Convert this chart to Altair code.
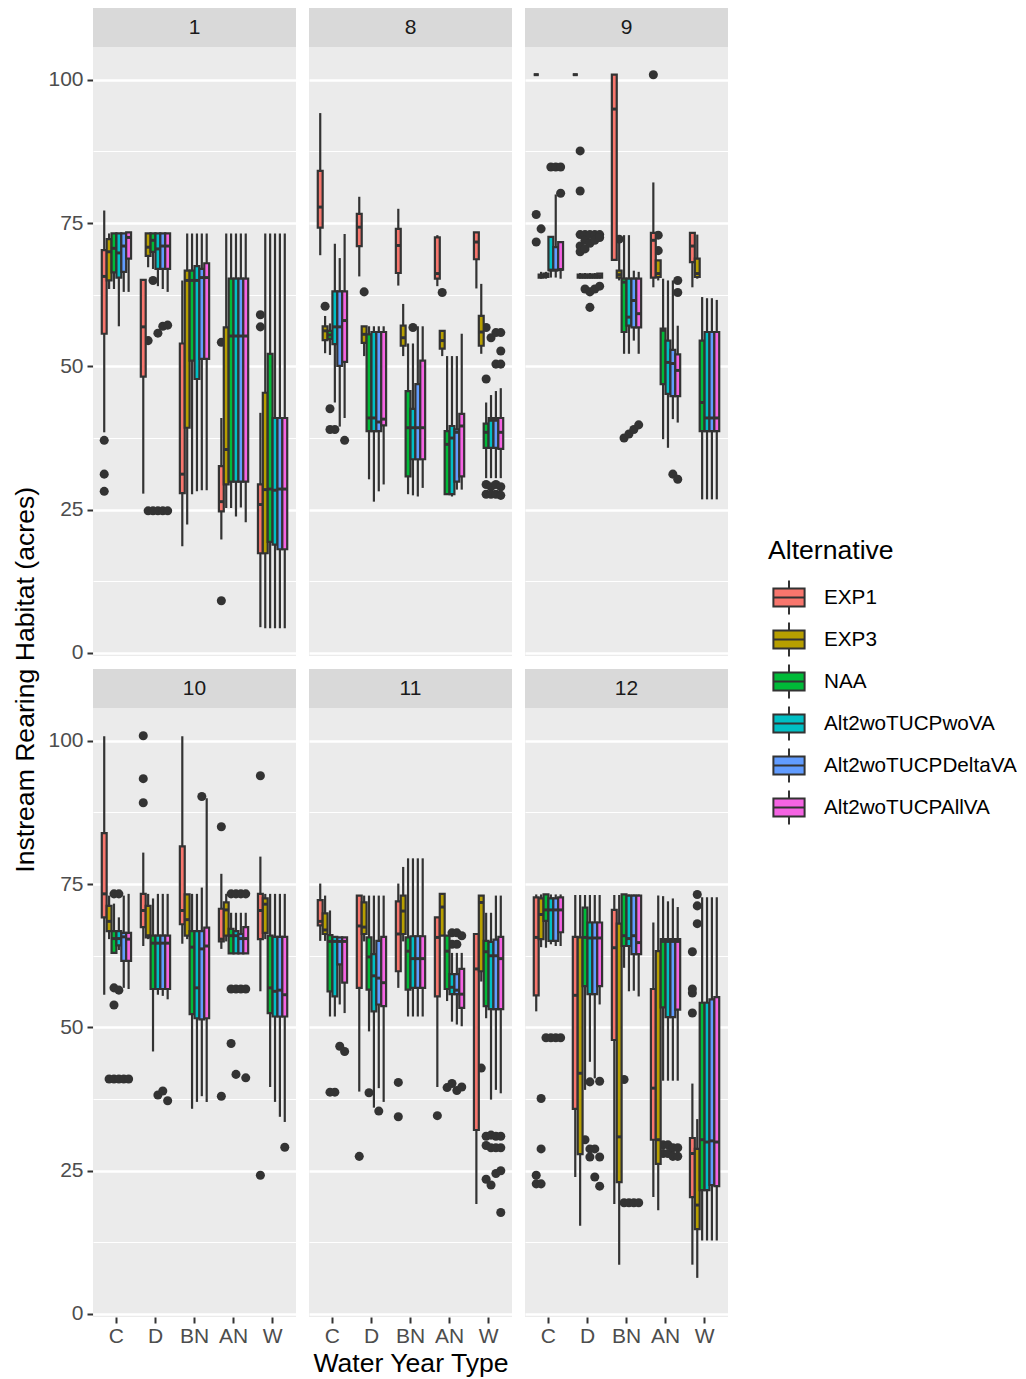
import altair as alt
import pandas as pd

ALTS = ["EXP1", "EXP3", "NAA", "Alt2woTUCPwoVA", "Alt2woTUCPDeltaVA", "Alt2woTUCPAllVA"]
WYT = ["C", "D", "BN", "AN", "W"]
MONTHS = [1, 8, 9, 10, 11, 12]
COLORS = ["#F8766D", "#B79F00", "#00BA38", "#00BFC4", "#619CFF", "#F564E3"]

# per month: water year type -> one [lower whisker, q1, median, q3, upper whisker] per alternative
m1_stats = {
    "C": [[38.5, 55.7, 65.7, 70.3, 77.2], [63.5, 65, 70, 72.2, 73.2], [63.5, 66.4, 70.6, 73.2, 73.2],
          [57, 65.5, 69.8, 73.2, 73.2], [63, 66.5, 71, 73.2, 73.2], [63, 68.8, 72.5, 73.4, 73.4]],
    "D": [[27.8, 48.2, 56.9, 65.1, 65.1], [67.3, 69.3, 70.8, 73.2, 73.2], [67, 70, 72, 73.2, 73.2],
          [64, 67, 70.5, 73.2, 73.2], [63.5, 67, 71, 73.2, 73.2], [63, 67, 71, 73.2, 73.2]],
    "BN": [[18.6, 27.9, 31.2, 54, 65], [22.4, 39.3, 65, 66.7, 73.2], [27.7, 51, 65, 66.7, 73.2],
           [28.2, 47.8, 65, 67.5, 73.2], [28.4, 51.3, 65.5, 67, 73.2], [28.4, 51.3, 65.5, 68, 73.2]],
    "AN": [[19.8, 24.7, 26.4, 32.6, 41], [25.3, 29.4, 35.5, 56.8, 73.2], [25.3, 29.9, 55.3, 65.3, 73.2],
           [23.8, 29.9, 55.3, 65.3, 73.2], [25.4, 29.9, 55.3, 65.3, 73.2], [22.8, 29.9, 55.3, 65.3, 73.2]],
    "W": [[4.5, 17.4, 25.9, 29.4, 41.9], [4.3, 17.4, 28.5, 45.4, 73.2], [4.3, 19.4, 28.6, 52.2, 73.2],
          [4.3, 18.9, 28.4, 41, 73.2], [4.3, 18.1, 28.6, 41, 73.2], [4.3, 18.1, 28.6, 41, 73.2]],
}
m1_out = {
    "C": {"EXP1": [37.1, 31.2, 28.2]},
    "D": {"EXP3": [54.5, 24.8], "NAA": [65, 24.8], "Alt2woTUCPwoVA": [55.8, 24.8],
          "Alt2woTUCPDeltaVA": [57, 24.8], "Alt2woTUCPAllVA": [57.2, 24.8]},
    "AN": {"EXP1": [54.2, 9.1]},
    "W": {"EXP1": [59, 56.9]},
}

m8_stats = {
    "C": [[69.4, 74.2, 77.8, 84.1, 94.2], [52.3, 54.6, 56.2, 57, 58.8], [52, 54.8, 55.5, 56.2, 57.5],
          [43.7, 53.9, 56.9, 63.1, 71.4], [39.5, 50.1, 56.9, 63.1, 68.9], [41, 50.8, 58, 63.1, 73.1]],
    "D": [[65.7, 71, 74.3, 76.6, 79.6], [51.8, 54.1, 55.6, 57, 57], [30.3, 38.7, 41, 55.6, 57],
          [26.4, 38.7, 41, 56, 57], [28.2, 38.7, 40.3, 56, 57], [29.4, 39.7, 40.8, 56, 57]],
    "BN": [[64.1, 66.3, 71.1, 74, 77.5], [51.8, 53.6, 55, 57.1, 60.9], [27.7, 30.8, 39.3, 45.7, 54],
           [27.5, 33.8, 39.3, 42.6, 54], [27.3, 33.8, 39.3, 46.9, 57], [28.8, 33.8, 39.3, 51, 57]],
    "AN": [[64, 65.3, 66.2, 72.5, 72.9], [51.8, 53.1, 54.5, 56.2, 56.2], [27.7, 27.7, 36.4, 38.7, 51.8],
           [27.3, 27.7, 37.5, 39.6, 51.8], [28.5, 29.9, 38.5, 39, 51.8], [28.5, 30.8, 39.6, 41.7, 55.7]],
    "W": [[63.6, 68.7, 71.7, 73.4, 73.4], [52.2, 53.6, 56, 58.8, 64.4], [30.5, 35.8, 38.5, 40, 43.7],
          [30.5, 35.8, 40.6, 41, 45], [30.5, 35.8, 40.6, 41, 45.7], [30.5, 35.6, 38.5, 41, 46.2]],
}
m8_out = {
    "C": {"EXP3": [60.5], "NAA": [42.6, 39], "Alt2woTUCPwoVA": [39], "Alt2woTUCPAllVA": [37.1]},
    "D": {"EXP3": [63]},
    "BN": {"Alt2woTUCPwoVA": [56.8]},
    "AN": {"EXP3": [62.9]},
    "W": {"NAA": [56.8, 47.8, 29.4, 27.7], "Alt2woTUCPwoVA": [55, 29, 27.7],
          "Alt2woTUCPDeltaVA": [55.9, 50.4, 29.4, 27.7], "Alt2woTUCPAllVA": [55.9, 52.7, 50.4, 29, 27.5]},
}

m9_stats = {
    "C": [[100.9, 100.9, 100.9, 100.9, 100.9], [65.3, 65.5, 65.8, 66, 66.5], [65.3, 65.6, 66, 66.2, 66.5],
          [65.5, 66.8, 66.8, 72.6, 72.6], [65.5, 66.8, 66.8, 70.8, 80], [65.3, 66.9, 66.9, 71.7, 71.7]],
    "D": [[100.9, 100.9, 100.9, 100.9, 100.9], [65.3, 65.5, 65.8, 66, 66.3], [65.3, 65.5, 65.8, 66, 66.3],
          [65.3, 65.5, 65.8, 66, 66.3], [65.3, 65.5, 65.8, 66, 66.3], [65.3, 65.5, 65.8, 66.2, 66.3]],
    "BN": [[68.6, 68.6, 94.9, 100.9, 100.9], [65, 65.5, 66, 66.7, 72.9], [52.2, 56, 64.7, 65.3, 72.9],
           [52.2, 57.1, 58.6, 65.3, 72.9], [54.5, 56.8, 61.5, 65.3, 66.7], [52.2, 56.8, 59.2, 65.3, 66.5]],
    "AN": [[63.8, 65.5, 72, 73.3, 82.1], [65, 65.6, 66.2, 68.5, 68.5], [37.3, 46.9, 56.3, 56.6, 65.3],
           [35.8, 45.2, 50.7, 54.5, 65], [40.8, 44.8, 50.5, 52.9, 65], [40.2, 44.8, 49.3, 52.1, 57.1]],
    "W": [[63.8, 68.2, 71, 73.3, 73.3], [65.3, 65.6, 66.2, 68.8, 73], [26.8, 38.7, 43.7, 54.5, 62.1],
          [26.8, 38.7, 41, 56, 61.9], [26.8, 38.7, 41, 56, 61.9], [26.8, 38.7, 41, 56, 61.6]],
}
m9_out = {
    "C": {"EXP1": [76.5, 71.7], "EXP3": [74], "Alt2woTUCPwoVA": [84.8], "Alt2woTUCPDeltaVA": [84.8],
          "Alt2woTUCPAllVA": [84.8, 80.2]},
    "D": {"EXP3": [87.6, 80.6, 73, 71, 70], "NAA": [73, 72, 70.5, 63.5], "Alt2woTUCPwoVA": [73, 71.5, 63, 60.3],
          "Alt2woTUCPDeltaVA": [73, 72, 63.5], "Alt2woTUCPAllVA": [73, 72.5, 64]},
    "BN": {"EXP3": [72.2], "NAA": [37.5], "Alt2woTUCPwoVA": [38.2], "Alt2woTUCPDeltaVA": [39],
           "Alt2woTUCPAllVA": [39.8]},
    "AN": {"EXP1": [100.9], "EXP3": [72.9, 70.2], "Alt2woTUCPDeltaVA": [31.2], "Alt2woTUCPAllVA": [65, 62.9, 30.3]},
}

m10_stats = {
    "C": [[55.7, 69.2, 73.3, 83.9, 100.8], [65.4, 66.8, 68.5, 71.2, 73], [63, 63, 65.5, 66.8, 71.6],
          [63.5, 64.3, 65.5, 66.8, 69.2], [56.9, 61.6, 65.8, 66.5, 73], [56.7, 61.6, 65.4, 66.5, 73.3]],
    "D": [[64.2, 67.5, 70.4, 73.3, 80.5], [65.4, 65.7, 66, 71.2, 73.3], [45.8, 56.7, 64.7, 66, 72.5],
          [55.7, 56.7, 64.7, 66, 73.3], [55.5, 56.7, 64.7, 66, 73.3], [54.9, 56.7, 64.7, 66, 73.3]],
    "BN": [[64.6, 68, 70.4, 81.6, 100.8], [65.4, 66, 68.8, 73.2, 73.2], [35.8, 52.3, 64, 66.8, 73.3],
           [37, 51.6, 56.9, 66.8, 73.3], [38, 51.4, 63.7, 66.8, 74.4], [37, 51.6, 64.2, 67.4, 90]],
    "AN": [[63.7, 65, 65.4, 70.7, 76.8], [65, 66, 70.5, 71.8, 73.3], [62.9, 62.9, 66, 67.2, 70],
           [62.9, 62.9, 66, 66.8, 70], [62.9, 62.9, 65.5, 66.3, 70], [62.9, 62.9, 65.5, 67.5, 70]],
    "W": [[56.3, 65.4, 70.4, 73.3, 79.8], [65.4, 66.5, 71.5, 72.5, 73.3], [39.6, 52.5, 56.9, 66, 73.3],
          [37, 51.9, 56.3, 65.8, 73.3], [34.4, 51.9, 56.5, 65.8, 73.3], [33.5, 51.9, 55.7, 65.8, 73.3]],
}
m10_out = {
    "C": {"EXP3": [41], "NAA": [73.3, 56.9, 53.9, 41], "Alt2woTUCPwoVA": [73.3, 56.5, 41],
          "Alt2woTUCPDeltaVA": [41], "Alt2woTUCPAllVA": [41]},
    "D": {"EXP1": [100.9, 93.4, 89.2], "Alt2woTUCPwoVA": [38.2], "Alt2woTUCPDeltaVA": [38.9],
          "Alt2woTUCPAllVA": [37.2]},
    "BN": {"Alt2woTUCPDeltaVA": [90.3]},
    "AN": {"EXP1": [85, 38], "NAA": [73.3, 56.7, 47.2], "Alt2woTUCPwoVA": [73.3, 56.7, 41.8],
           "Alt2woTUCPDeltaVA": [73.3, 56.7], "Alt2woTUCPAllVA": [73.3, 56.7, 41.2]},
    "W": {"EXP1": [93.9, 24.2], "Alt2woTUCPAllVA": [29.1]},
}

m11_stats = {
    "C": [[65.1, 67.8, 68.5, 72.2, 75.1], [65.1, 66.3, 67, 69.9, 73], [51.9, 56.3, 65, 66.1, 70.4],
          [51.9, 55.4, 65, 65.8, 65.8], [54, 61, 65, 65.7, 65.7], [52.5, 57.8, 65, 65.7, 65.7]],
    "D": [[38.8, 56.9, 67.7, 73, 73], [65, 66.3, 67.5, 71.8, 73], [49.3, 56.6, 62.3, 65.7, 73],
          [36, 52.8, 59, 62.8, 73], [39.4, 54, 58.6, 65.1, 73], [37, 53.7, 57.8, 65.8, 73]],
    "BN": [[56.9, 59.8, 66.3, 72, 75.1], [65, 66.3, 70.3, 73, 78], [51.9, 56.6, 63.3, 65.7, 79.5],
           [51.9, 56.9, 62, 65.9, 79.5], [51.9, 56.9, 62, 65.9, 79.5], [51.9, 56.9, 62, 65.9, 79.5]],
    "AN": [[39.6, 55.4, 65.7, 69.2, 69.2], [66, 66, 71, 73.3, 73.3], [54.6, 56.7, 63.3, 66, 66],
           [51, 55.8, 57, 59.3, 63], [50.5, 55.8, 56.5, 59.3, 63], [50.2, 53.4, 55.8, 60.2, 63]],
    "W": [[19.2, 32.1, 60.2, 66.3, 66.3], [58, 59.8, 71.8, 73, 73], [51.6, 53.7, 63.2, 65.1, 70],
          [37.4, 53.2, 62.5, 64.9, 70], [39.1, 53.2, 62.5, 65.3, 73], [38.5, 53.2, 62, 65.8, 73]],
}
m11_out = {
    "C": {"NAA": [38.7], "Alt2woTUCPwoVA": [38.7], "Alt2woTUCPDeltaVA": [46.7], "Alt2woTUCPAllVA": [45.8]},
    "D": {"EXP1": [27.5], "NAA": [38.6], "Alt2woTUCPDeltaVA": [35.4]},
    "BN": {"EXP1": [40.4, 34.4]},
    "AN": {"EXP1": [34.6], "NAA": [39.5], "Alt2woTUCPwoVA": [66.5, 64.5, 40.2],
           "Alt2woTUCPDeltaVA": [66.5, 64.5, 39], "Alt2woTUCPAllVA": [66, 39.6]},
    "W": {"EXP3": [42.9], "NAA": [31, 29.4, 23.5], "Alt2woTUCPwoVA": [31.2, 29, 22.5],
          "Alt2woTUCPDeltaVA": [31, 29, 24.5], "Alt2woTUCPAllVA": [31, 29, 25, 17.7]},
}

m12_stats = {
    "C": [[52.8, 55.6, 65.7, 72.7, 73.2], [64, 65.4, 69.7, 72.5, 73.2], [63.9, 68.6, 70.5, 73.2, 73.2],
          [64.5, 65.1, 70.5, 72.5, 73.2], [64.2, 65.1, 70.5, 72.5, 73.2], [64.2, 66.6, 70.5, 72.7, 73.2]],
    "D": [[23.9, 35.8, 55.6, 65.8, 73.1], [15.4, 27.9, 42, 65.7, 73.1], [39.1, 57.2, 65.7, 70.9, 73.1],
          [44, 55.8, 65.6, 68.3, 73.1], [41.1, 55.8, 65.6, 68.3, 73.1], [54, 57.2, 65.6, 68.3, 73.1]],
    "BN": [[19.2, 47.8, 63.9, 70.5, 73.1], [8.6, 23, 30.9, 68.1, 73.1], [60.4, 64.2, 66, 73.2, 73.2],
           [56.3, 64.2, 65.5, 73, 73.2], [56.4, 62.8, 66, 73, 73.2], [55.4, 62.8, 64.8, 73, 73.2]],
    "AN": [[20.4, 30.4, 39.4, 56.7, 68.3], [18.1, 26.2, 30.4, 63.3, 73], [40.7, 53.5, 65, 65.4, 72.9],
           [40.7, 51.8, 65, 65.4, 72], [40.7, 51.8, 65, 65.4, 72.5], [40.7, 53.1, 65, 65.4, 71]],
    "W": [[8.6, 20.4, 28, 30.7, 40.2], [6.3, 14.8, 19, 28.8, 34], [12.8, 21.6, 30.4, 54.3, 72.7],
          [12.8, 21.6, 30, 54.3, 72.7], [12.8, 22.5, 30.2, 54.9, 72.7], [12.8, 22.3, 30, 55.3, 72.7]],
}
m12_out = {
    "C": {"EXP1": [24.2, 22.7], "EXP3": [37.6, 28.8, 22.7], "NAA": [48.2], "Alt2woTUCPwoVA": [48.2],
          "Alt2woTUCPDeltaVA": [48.2], "Alt2woTUCPAllVA": [48.2]},
    "D": {"NAA": [30.4], "Alt2woTUCPwoVA": [40.5, 28.8, 27.4], "Alt2woTUCPDeltaVA": [28.8, 23.9],
          "Alt2woTUCPAllVA": [40.6, 27.4, 22.3]},
    "BN": {"NAA": [40.9, 19.4], "Alt2woTUCPwoVA": [19.4], "Alt2woTUCPDeltaVA": [19.4], "Alt2woTUCPAllVA": [19.4]},
    "AN": {"NAA": [29.5, 28], "Alt2woTUCPwoVA": [29.5, 28], "Alt2woTUCPDeltaVA": [29, 27.5],
           "Alt2woTUCPAllVA": [29, 27.5]},
    "W": {"EXP1": [63.2, 56.7, 56, 52.5], "EXP3": [73.2, 71.2, 68.1]},
}

STATS = {1: m1_stats, 8: m8_stats, 9: m9_stats, 10: m10_stats, 11: m11_stats, 12: m12_stats}
OUTS = {1: m1_out, 8: m8_out, 9: m9_out, 10: m10_out, 11: m11_out, 12: m12_out}

rows = []
for m in MONTHS:
    for w in WYT:
        for a, s in zip(ALTS, STATS[m][w]):
            rows.append({"kind": "box", "month": m, "wyt": w, "alt": a,
                         "lo": s[0], "q1": s[1], "med": s[2], "q3": s[3], "hi": s[4]})
        for a, vals in OUTS[m].get(w, {}).items():
            for v in vals:
                rows.append({"kind": "out", "month": m, "wyt": w, "alt": a, "value": v})
df = pd.DataFrame(rows)

FONT = "Liberation Sans"
W, H = 203, 609
YDOM = [-0.53, 105.73]
DARK = "#333333"
LW = 2.2
TICKFS = 21.0
TITLEFS = 26.6

yscale = alt.Scale(domain=YDOM, nice=False, zero=False)
yaxis = alt.Axis(
    title=None, values=[0, 12.5, 25, 37.5, 50, 62.5, 75, 87.5, 100],
    labelExpr="datum.value % 25 === 0 ? format(datum.value, 'd') : ''",
    tickColor={"condition": {"test": "datum.value % 25 === 0", "value": DARK}, "value": "transparent"},
    gridWidth={"condition": {"test": "datum.value % 25 === 0", "value": 2.4}, "value": 1.2},
    gridColor="white", domain=False, tickSize=6, tickWidth=2, labelPadding=4,
    labelFontSize=TICKFS, labelColor="#4D4D4D", labelFont=FONT,
)
xscale = alt.Scale(domain=WYT, paddingInner=0, paddingOuter=0.1)
xaxis = alt.Axis(title=None, gridColor="white", gridWidth=2.4, domain=False, tickSize=6, tickWidth=2,
                 tickColor=DARK, labelPadding=2, labelFontSize=TICKFS, labelColor="#4D4D4D",
                 labelFont=FONT, labelAngle=0, bandPosition=0.5)
xo = alt.XOffset("alt:N", sort=ALTS, scale=alt.Scale(domain=ALTS, paddingOuter=1, paddingInner=0))

X = alt.X("wyt:N", sort=WYT, scale=xscale, axis=xaxis)

base = alt.Chart()

strip = base.transform_filter("datum.kind === 'box'").transform_aggregate(
    n="count()", groupby=["month"]
).mark_rect(color="#D9D9D9").encode(
    x=alt.value(0), x2=alt.value(W), y=alt.value(-39), y2=alt.value(0)
)
strip_text = base.transform_filter("datum.kind === 'box'").transform_aggregate(
    n="count()", groupby=["month"]
).mark_text(fontSize=TICKFS, color="#1A1A1A", font=FONT, baseline="middle").encode(
    text=alt.Text("month:N"), x=alt.value(W / 2), y=alt.value(-19.5)
)

whisk = base.transform_filter("datum.kind === 'box'").mark_rule(color=DARK, strokeWidth=LW).encode(
    x=X, xOffset=xo,
    y=alt.Y("lo:Q", scale=yscale, axis=yaxis), y2="hi:Q",
)

box = base.transform_filter("datum.kind === 'box'").mark_bar(stroke=DARK, strokeWidth=LW).encode(
    x=X, xOffset=xo,
    y=alt.Y("q1:Q", scale=yscale, axis=yaxis), y2="q3:Q",
    fill=alt.Fill("alt:N", sort=ALTS, scale=alt.Scale(domain=ALTS, range=COLORS),
                  legend=alt.Legend(
                      title="Alternative", orient="none", legendX=675, legendY=491,
                      symbolType="M-0.78,-0.45H0.78V0.45H-0.78Z M0,-0.45V-0.85 M0,0.45V0.85 M-0.78,0H0.78",
                      symbolSize=1600, symbolStrokeColor=DARK, symbolStrokeWidth=2, symbolOpacity=1,
                      labelFontSize=20.7, labelFont=FONT, labelColor="#000000", labelOffset=14,
                      labelLimit=0,
                      titleFontSize=TITLEFS, titleFont=FONT, titleColor="#000000", titleFontWeight="normal",
                      titlePadding=12, rowPadding=0)),
)

med = base.transform_filter("datum.kind === 'box'").transform_calculate(
    m_lo="datum.med - 0.26", m_hi="datum.med + 0.26"
).mark_bar(color=DARK).encode(
    x=X, xOffset=xo,
    y=alt.Y("m_lo:Q", scale=yscale, axis=yaxis), y2="m_hi:Q",
)

outl = base.transform_filter("datum.kind === 'out'").mark_circle(size=82, color=DARK, opacity=1).encode(
    x=X, xOffset=xo,
    y=alt.Y("value:Q", scale=yscale, axis=yaxis),
)

layered = alt.layer(strip, strip_text, whisk, outl, box, med, data=df).properties(width=W, height=H)

chart = layered.facet(
    facet=alt.Facet("month:O", sort=MONTHS, title="Water Year Type",
                    header=alt.Header(labels=False, labelExpr="''", labelFontSize=0, labelPadding=0,
                                      titleOrient="bottom", titleFontSize=TITLEFS,
                                      titleFont=FONT, titleColor="#000000", titleFontWeight="normal",
                                      titlePadding=5)),
    columns=3, spacing={"row": 13, "column": 13},
).properties(
    title=alt.TitleParams("Instream Rearing Habitat (acres)", orient="left", anchor="middle",
                          fontSize=TITLEFS, font=FONT, color="#000000", fontWeight="normal",
                          offset=8, dx=13),
    padding={"left": 5, "top": 0, "right": 0, "bottom": 2},
    background="white",
).configure_view(fill="#EBEBEB", stroke=None).configure_header(labels=False)

chart.save("out.html", embed_options={"renderer": "svg", "actions": False})
